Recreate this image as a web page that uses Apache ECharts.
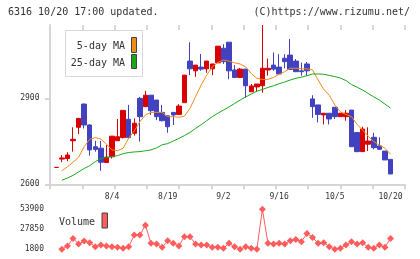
<!DOCTYPE html>
<html>
<head>
<meta charset="utf-8">
<script src="https://cdn.jsdelivr.net/npm/echarts@6/dist/echarts.min.js"></script>
<style>html,body{margin:0;padding:0;background:#fff}#c{width:420px;height:259px}</style>
</head>
<body>
<div id="c"></div>
<script>
// ---- data ----
const dates = ['7/21','7/22','7/25','7/26','7/27','7/28','7/29','8/1','8/2','8/3',
  '8/4','8/5','8/8','8/9','8/10','8/12','8/15','8/16','8/17','8/18',
  '8/19','8/22','8/23','8/24','8/25','8/26','8/29','8/30','8/31','9/1',
  '9/2','9/5','9/6','9/7','9/8','9/9','9/12','9/13','9/14','9/15',
  '9/16','9/21','9/22','9/26','9/27','9/28','9/29','9/30','10/3','10/4',
  '10/5','10/6','10/7','10/11','10/12','10/13','10/14','10/17','10/18','10/19','10/20'];
const shownDates = ['8/4','8/19','9/2','9/16','10/5','10/20'];
// [open, close, low, high]
const ohlc = [
  [2659,2659,2659,2659],[2688,2692,2677,2702],[2690,2702,2680,2712],[2752,2757,2714,2799],[2799,2830,2775,2832],
  [2880,2807,2795,2882],[2807,2720,2700,2810],[2731,2722,2714,2752],[2726,2677,2647,2752],[2676,2695,2676,2737],
  [2696,2768,2690,2768],[2752,2766,2752,2828],[2763,2858,2760,2858],[2827,2763,2758,2877],[2778,2813,2770,2830],
  [2900,2836,2749,2905],[2871,2911,2871,2926],[2911,2857,2842,2911],[2894,2836,2824,2894],[2851,2822,2820,2877],
  [2839,2801,2780,2840],[2851,2842,2807,2851],[2844,2873,2844,2880],[2885,2981,2885,2981],[3030,3003,2981,3096],
  [2996,3016,2975,3016],[3009,3002,2996,3055],[3003,3030,2989,3030],[3003,3020,2981,3020],[3024,3082,3024,3082],
  [3075,3028,3020,3089],[3096,2996,2967,3096],[2999,2973,2973,3016],[2973,3002,2973,3006],[3002,2944,2902,3002],
  [2923,2943,2923,2950],[2940,2950,2923,2950],[2944,3005,2920,3156],[2999,3005,2979,3039],[3016,3002,2996,3060],
  [3009,2985,2985,3054],[3040,3028,3005,3054],[3051,3001,3001,3107],[3030,2993,2993,3037],[2996,2993,2979,3025],
  [3020,2996,2979,3027],[2898,2871,2832,2911],[2877,2844,2816,2877],[2842,2848,2809,2848],[2848,2828,2809,2848],
  [2869,2836,2828,2869],[2836,2848,2836,2848],[2836,2848,2822,2859],[2859,2731,2731,2859],[2781,2714,2712,2781],
  [2714,2793,2714,2801],[2740,2751,2716,2799],[2764,2728,2722,2780],[2734,2722,2722,2764],[2716,2685,2685,2716],
  [2687,2636,2636,2687]
];
const ma5 = [null,2647,2661,2677,2694,2731,2757,2763,2758,2740,
  2720,2717,2726,2761,2786,2818,2842,2851,2851,2851,
  2836,2836,2834,2838,2865,2906,2946,2981,3010,3025,
  3034,3030,3024,3020,3010,2987,2970,2966,2966,2973,
  2984,2993,3005,3005,3003,3003,2999,2964,2932,2911,
  2877,2853,2844,2836,2809,2789,2768,2749,2737,2726,2705];
const ma25 = [null,2614,2622,2631,2643,2655,2665,2679,2690,2693,
  2697,2700,2707,2711,2713,2714,2717,2720,2727,2738,
  2742,2751,2760,2770,2781,2795,2808,2822,2836,2848,
  2859,2870,2882,2894,2905,2915,2925,2931,2938,2944,
  2951,2957,2964,2970,2974,2979,2985,2985,2984,2980,
  2976,2971,2962,2948,2939,2929,2917,2905,2894,2880,2866];
const volume = [null,1800,6100,16000,8650,12550,10400,5250,7400,6100,
  5250,4400,3100,5250,20300,20300,33200,9550,8650,4400,
  13000,9550,6100,18150,18150,8650,7400,7400,4400,4400,
  3100,9550,5250,1800,5250,3100,1800,53900,9550,8650,
  9550,8650,13000,14700,11700,22500,17300,9550,10400,5250,
  1800,3100,7400,11700,8650,10400,4400,3100,7400,4400,16000];
const priceTicks = [2600, 2900];
const volumeTicks = [1800, 27850, 53900];

// ---- chart ----
const mono = "'DejaVu Sans Mono', 'Liberation Mono', monospace";
const axisGray = '#d6d6d6';
const plain = v => String(Math.round(v));
const chart = echarts.init(document.getElementById('c'), null, {renderer: 'canvas'});
const PMIN = 2600, PMAX = 3156;
chart.setOption({
  animation: false,
  grid: [
    {left: 50, right: 15, top: 25, bottom: 74.7},
    {left: 53.5, width: 339.8, top: 25, bottom: 74.7},
    {left: 53.5, width: 339.8, top: 209.3, height: 40}
  ],
  xAxis: [
    {gridIndex: 0, type: 'value', min: 0, max: 11, interval: 1,
      axisLine: {show: true, lineStyle: {color: axisGray, width: 2}},
      axisTick: {show: true, length: 5, lineStyle: {color: axisGray, width: 2}},
      axisLabel: {show: false}, splitLine: {show: false}},
    {gridIndex: 0, type: 'value', min: 0, max: 11, interval: 1,
      axisLine: {show: false},
      axisTick: {show: true, inside: true, length: 5, lineStyle: {color: axisGray, width: 2}},
      axisLabel: {show: false}, splitLine: {show: false}},
    {gridIndex: 1, type: 'category', data: dates, boundaryGap: true,
      axisLine: {show: false}, axisTick: {show: false},
      axisLabel: {show: true, interval: (i, v) => shownDates.includes(v) && i >= 10,
        margin: 9, fontSize: 8, fontFamily: mono, color: '#333'}},
    {gridIndex: 2, type: 'category', data: dates, boundaryGap: true, show: false}
  ],
  yAxis: [
    {gridIndex: 0, type: 'value', min: PMIN, max: PMAX,
      axisLine: {show: true, lineStyle: {color: axisGray, width: 2}},
      axisTick: {show: true, length: 5, customValues: priceTicks, lineStyle: {color: axisGray, width: 2}},
      axisLabel: {show: true, customValues: priceTicks, formatter: plain, margin: 10.5, fontSize: 8, fontFamily: mono, color: '#333'},
      splitLine: {show: false}},
    {gridIndex: 0, type: 'value', min: PMIN, max: PMAX,
      axisLine: {show: false},
      axisTick: {show: true, inside: true, length: 4, customValues: priceTicks, lineStyle: {color: axisGray, width: 2}},
      axisLabel: {show: false}, splitLine: {show: false}},
    {gridIndex: 1, type: 'value', min: PMIN, max: PMAX, show: false},
    {gridIndex: 2, type: 'value', min: 1800, max: 53900,
      axisLine: {show: false}, axisTick: {show: false}, splitLine: {show: false},
      axisLabel: {show: true, customValues: volumeTicks, formatter: plain, margin: 9.5, fontSize: 8, fontFamily: mono, color: '#333'}}
  ],
  series: [
    {type: 'line', xAxisIndex: 0, yAxisIndex: 0, data: [], silent: true},
    {type: 'candlestick', xAxisIndex: 2, yAxisIndex: 2, barWidth: 5, data: ohlc,
      itemStyle: {color: '#d80000', color0: '#4242c0', borderColor: '#d80000', borderColor0: '#4242c0', borderWidth: 1}},
    {type: 'line', xAxisIndex: 2, yAxisIndex: 2, data: ma5, showSymbol: false, symbol: 'none',
      lineStyle: {color: '#f08c18', width: 1}, z: 5},
    {type: 'line', xAxisIndex: 2, yAxisIndex: 2, data: ma25, showSymbol: false, symbol: 'none',
      lineStyle: {color: '#18a818', width: 1}, z: 5},
    {type: 'line', xAxisIndex: 3, yAxisIndex: 3, data: volume, symbol: 'diamond', symbolSize: 7,
      showSymbol: true, showAllSymbol: true,
      itemStyle: {color: '#ff5c5c'}, lineStyle: {color: '#ff5c5c', width: 1}}
  ],
  graphic: [
    {type: 'text', left: 8, top: 7, style: {text: '6316 10/20 17:00 updated.', font: '10px ' + mono, fill: '#333'}},
    {type: 'text', right: 10, top: 7, style: {text: '(C)https://www.rizumu.net/', font: '10px ' + mono, fill: '#333'}},
    {type: 'rect', shape: {x: 65.5, y: 30.5, width: 77, height: 46}, style: {fill: '#fff', stroke: '#d8d8d8', lineWidth: 1}, z: 10},
    {type: 'text', x: 125, y: 46.7, style: {text: '5-day MA', font: '10px ' + mono, fill: '#333', align: 'right', verticalAlign: 'middle'}, z: 11},
    {type: 'rect', shape: {x: 131.5, y: 37.5, width: 5, height: 15}, style: {fill: '#f08c18', stroke: '#444', lineWidth: 1}, z: 11},
    {type: 'text', x: 125, y: 63.3, style: {text: '25-day MA', font: '10px ' + mono, fill: '#333', align: 'right', verticalAlign: 'middle'}, z: 11},
    {type: 'rect', shape: {x: 131.5, y: 54.5, width: 5, height: 14}, style: {fill: '#18a818', stroke: '#444', lineWidth: 1}, z: 11},
    {type: 'text', x: 59, y: 222.3, style: {text: 'Volume', font: '10px ' + mono, fill: '#333', verticalAlign: 'middle'}, z: 11},
    {type: 'rect', shape: {x: 102, y: 213, width: 5.5, height: 15}, style: {fill: '#ff5c5c', stroke: '#444', lineWidth: 1}, z: 11}
  ]
});
</script>
</body>
</html>
